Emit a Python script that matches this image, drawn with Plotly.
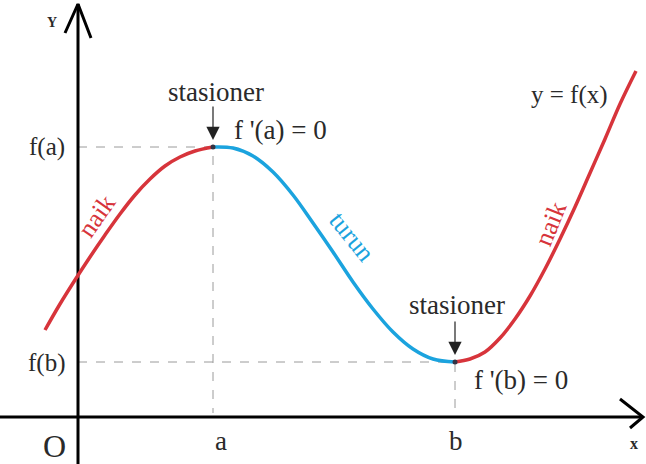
import plotly.graph_objects as go

# chart units: origin O at the axes crossing, y upward
rise_x = [-33, -18, -3, 12, 27, 42, 57, 72, 87, 102, 117, 135]
rise_y = [87, 113, 137, 160, 182, 203, 222, 238, 251, 260, 266, 270]

fall_x = [135, 155, 175, 195, 215, 235, 255, 275, 295, 315, 335, 355, 377]
fall_y = [270, 269, 261, 245, 222, 194, 165, 135, 108, 85, 68, 58, 55]

rise2_x = [377, 392, 407, 422, 437, 452, 467, 482, 497, 512, 527, 542, 558]
rise2_y = [55, 58, 65, 79, 98, 121, 148, 178, 210, 244, 278, 313, 346]

x_a, x_b = 135, 377
f_a, f_b = 270, 55

RED = "#d7343b"
BLUE = "#1ba3de"
INK = "#2a2a2a"
SERIF = "Liberation Serif, Times New Roman, serif"

fig = go.Figure()

# guide lines
fig.add_scatter(x=[0, x_a, x_a], y=[f_a, f_a, 4], mode="lines",
                line=dict(color="#9a9a9a", width=1, dash="dash"), hoverinfo="skip")
fig.add_scatter(x=[0, x_b, x_b], y=[f_b, f_b, 4], mode="lines",
                line=dict(color="#9a9a9a", width=1, dash="dash"), hoverinfo="skip")

# axes
fig.add_scatter(x=[0, 0], y=[-47, 413], mode="lines", line=dict(color="black", width=3), hoverinfo="skip")
fig.add_scatter(x=[-78, 565], y=[0, 0], mode="lines", line=dict(color="black", width=3), hoverinfo="skip")
fig.add_scatter(x=[-13, 0, 13], y=[384, 413, 379], mode="lines", line=dict(color="black", width=3), hoverinfo="skip")
fig.add_scatter(x=[542, 565, 552], y=[18, 0, -11], mode="lines", line=dict(color="black", width=3), hoverinfo="skip")

# curve
fig.add_scatter(x=rise_x, y=rise_y, mode="lines", line=dict(color=RED, width=3.5, shape="spline"), hoverinfo="skip")
fig.add_scatter(x=fall_x, y=fall_y, mode="lines", line=dict(color=BLUE, width=3.5, shape="spline"), hoverinfo="skip")
fig.add_scatter(x=rise2_x, y=rise2_y, mode="lines", line=dict(color=RED, width=3.5, shape="spline"), hoverinfo="skip")
fig.add_scatter(x=[x_a, x_b], y=[f_a, f_b], mode="markers",
                marker=dict(color="#333344", size=5), hoverinfo="skip")

def label(x, y, text, size=27, color=INK, anchor="center", angle=0, bold=False):
    if bold:
        text = "<b>" + text + "</b>"
    fig.add_annotation(x=x, y=y, text=text, showarrow=False, xanchor=anchor, yanchor="middle",
                       textangle=angle, font=dict(family=SERIF, size=size, color=color))

label(-26, 395, "Y", size=14, bold=True)
label(138, 325, "stasioner")
label(154, 287, "f '(a) = 0", anchor="left")
label(-11, 270, "f(a)", size=25, anchor="right")
label(-11, 54, "f(b)", size=25, anchor="right")
label(379, 112, "stasioner")
label(394, 37, "f '(b) = 0", anchor="left")
label(491, 322, "y = f(x)", size=25)
label(18, 201, "naik", size=26, color=RED, angle=-55)
label(274, 181, "turun", size=26, color=BLUE, angle=51)
label(472, 193, "naik", size=26, color=RED, angle=-68)
label(-24, -29, "O", size=32)
label(143, -24, "a")
label(378, -24, "b")
label(556, -26, "x", size=16, bold=True)

# arrows to the stationary points
for xs, ys in [(x_a, f_a), (x_b, f_b)]:
    fig.add_annotation(x=xs, y=ys + 7, ax=xs, ay=ys + 42, xref="x", yref="y", axref="x", ayref="y",
                       showarrow=True, arrowhead=2, arrowsize=2.2, arrowwidth=1.2, arrowcolor="#222222", text="")

fig.update_layout(
    width=646, height=464,
    margin=dict(l=0, r=0, t=0, b=0),
    paper_bgcolor="white", plot_bgcolor="white",
    showlegend=False,
    xaxis=dict(range=[-78, 568], visible=False, fixedrange=True),
    yaxis=dict(range=[-47, 417], visible=False, fixedrange=True),
)

fig.write_html("out.html", config={"displayModeBar": False},
               post_script="document.body.style.margin = '0';")
